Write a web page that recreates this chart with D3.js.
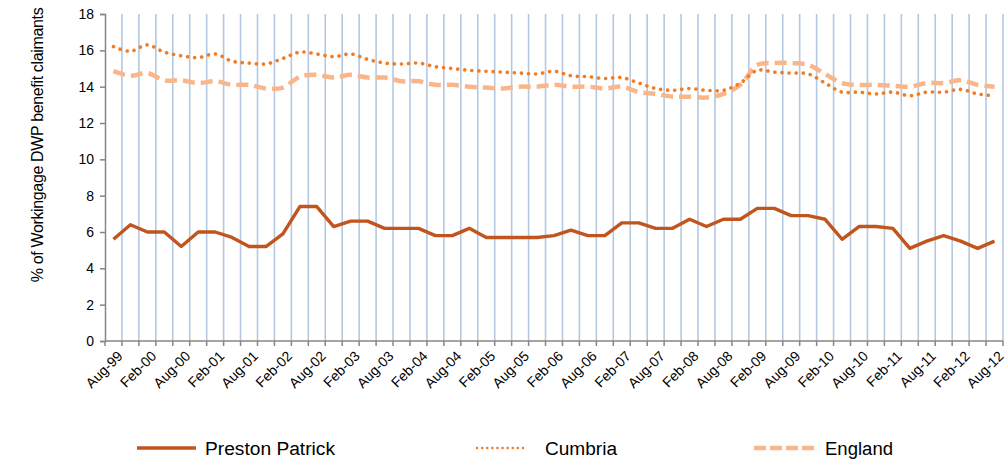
<!DOCTYPE html>
<html><head><meta charset="utf-8">
<script src="https://cdn.jsdelivr.net/npm/d3@7"></script>
<style>body{margin:0;background:#fff}svg{display:block;font-family:"Liberation Sans",Arial,sans-serif}</style>
</head><body><svg id="c" width="1007" height="464"></svg>
<script>
const months = ["Aug","Nov","Feb","May"];
const categories = [];
for (let i = 0; i < 53; i++) {
  const m = months[i % 4];
  const yr = 1999 + Math.floor((i + 2) / 4) ;
  categories.push(m + "-" + String(yr % 100).padStart(2, "0"));
}
const prestonPatrick = [5.6,6.4,6.0,6.0,5.2,6.0,6.0,5.7,5.2,5.2,5.9,7.4,7.4,6.3,6.6,6.6,6.2,6.2,6.2,5.8,5.8,6.2,5.7,5.7,5.7,5.7,5.8,6.1,5.8,5.8,6.5,6.5,6.2,6.2,6.7,6.3,6.7,6.7,7.3,7.3,6.9,6.9,6.7,5.6,6.3,6.3,6.2,5.1,5.5,5.8,5.5,5.1,5.5];
const cumbria = [16.2,15.95,16.3,15.9,15.7,15.6,15.8,15.4,15.3,15.25,15.55,15.9,15.8,15.65,15.8,15.5,15.3,15.25,15.3,15.1,15.0,14.9,14.85,14.8,14.75,14.7,14.85,14.6,14.55,14.45,14.5,14.2,13.9,13.8,13.9,13.8,13.8,14.2,14.9,14.8,14.75,14.7,14.2,13.7,13.7,13.6,13.7,13.5,13.7,13.7,13.85,13.6,13.5];
const england = [14.85,14.6,14.75,14.35,14.35,14.2,14.3,14.1,14.1,13.9,13.95,14.55,14.65,14.5,14.65,14.5,14.5,14.3,14.3,14.1,14.1,14.0,13.95,13.9,14.0,14.0,14.1,14.0,14.0,13.9,14.0,13.7,13.6,13.45,13.45,13.4,13.6,14.1,15.2,15.3,15.3,15.2,14.7,14.2,14.1,14.1,14.05,14.0,14.2,14.2,14.35,14.1,14.0];
const yTicks = [0,2,4,6,8,10,12,14,16,18];
const seriesNames = ["Preston Patrick","Cumbria","England"];

const svg = d3.select("#c");
const L = 105, R = 1003, T = 14, B = 341;
const x = d3.scaleBand().domain(d3.range(categories.length)).range([L, R]);
const y = d3.scaleLinear().domain([0, 18]).range([B, T]);
const cx = i => x(i) + x.bandwidth() / 2;

// vertical gridlines at category boundaries
const bounds = d3.range(categories.length + 1).map(i => L + i * x.bandwidth());
svg.append("g").selectAll("line").data(bounds.slice(1)).join("line")
  .attr("x1", d => d).attr("x2", d => d).attr("y1", T).attr("y2", B)
  .attr("stroke", "#b3c8e2").attr("stroke-width", 1.6);

// y axis
const ya = svg.append("g").attr("transform", `translate(${L},0)`)
  .call(d3.axisLeft(y).tickValues(yTicks).tickSize(5).tickPadding(6));
ya.select(".domain").attr("stroke", "#868686").attr("stroke-width", 1.5);
ya.selectAll(".tick line").attr("stroke", "#868686").attr("stroke-width", 1.5);
ya.selectAll("text").attr("font-size", 14).attr("fill", "#000").attr("font-family", "Liberation Sans, Arial, sans-serif");

// x axis
svg.append("line").attr("x1", L).attr("x2", R).attr("y1", B).attr("y2", B)
  .attr("stroke", "#868686").attr("stroke-width", 1.5);
svg.append("g").selectAll("line").data(bounds).join("line")
  .attr("x1", d => d).attr("x2", d => d).attr("y1", B).attr("y2", B + 5)
  .attr("stroke", "#868686").attr("stroke-width", 1.5);
svg.append("g").selectAll("text").data(categories.map((c, i) => ({c, i})).filter(d => d.i % 2 === 0)).join("text")
  .attr("transform", d => `translate(${cx(d.i) + 10},${B + 16}) rotate(-45)`)
  .attr("text-anchor", "end").attr("font-size", 14).attr("fill", "#000")
  .text(d => d.c);

// y title
svg.append("text").attr("transform", "translate(43,145) rotate(-90)")
  .attr("text-anchor", "middle").attr("font-size", 16).attr("fill", "#000")
  .attr("letter-spacing", -0.35)
  .text("% of Workingage DWP benefit claimants");

// lines
const straight = d3.line().x((d, i) => cx(i)).y(d => y(d));
const smooth = d3.line().x((d, i) => cx(i)).y(d => y(d)).curve(d3.curveCatmullRom.alpha(0.5));
svg.append("path").datum(england).attr("d", smooth).attr("fill", "none")
  .attr("stroke", "#fab68a").attr("stroke-width", 4.5).attr("stroke-dasharray", "12,6");
svg.append("path").datum(cumbria).attr("d", smooth).attr("fill", "none")
  .attr("stroke", "#f47b20").attr("stroke-width", 3.6).attr("stroke-dasharray", "0.1,7").attr("stroke-linecap", "round");
svg.append("path").datum(prestonPatrick).attr("d", straight).attr("fill", "none")
  .attr("stroke", "#c0561e").attr("stroke-width", 3.4).attr("stroke-linejoin", "round");

// legend
const legend = [
  {name: seriesNames[0], x1: 137, x2: 196, tx: 205, tl: 130, stroke: "#c0561e", w: 3.4, dash: null, cap: "butt"},
  {name: seriesNames[1], x1: 477, x2: 527, tx: 545, tl: 72, stroke: "#f47b20", w: 2.5, dash: "0.1,5", cap: "round"},
  {name: seriesNames[2], x1: 754, x2: 815, tx: 825, tl: 68, stroke: "#fab68a", w: 4.5, dash: "12,4", cap: "butt"}
];
const lg = svg.append("g").selectAll("g").data(legend).join("g");
lg.append("line").attr("x1", d => d.x1).attr("x2", d => d.x2).attr("y1", 448).attr("y2", 448)
  .attr("stroke", d => d.stroke).attr("stroke-width", d => d.w)
  .attr("stroke-dasharray", d => d.dash).attr("stroke-linecap", d => d.cap);
lg.append("text").attr("x", d => d.tx).attr("y", 455).attr("font-size", 18).attr("fill", "#000")
  .attr("textLength", d => d.tl).attr("lengthAdjust", "spacingAndGlyphs").text(d => d.name);
</script></body></html>
